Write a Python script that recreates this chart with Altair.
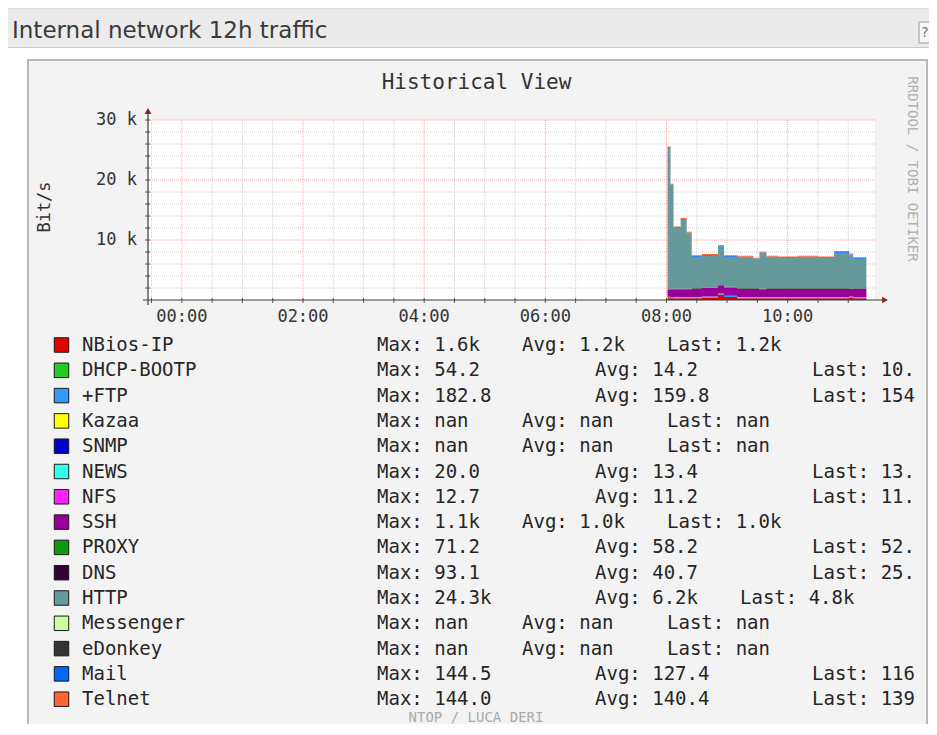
import altair as alt
import pandas as pd

# ---------------- data ----------------
series_names = ["NBios-IP", "DHCP-BOOTP", "+FTP", "Kazaa", "SNMP", "NEWS", "NFS", "SSH",
                "PROXY", "DNS", "HTTP", "Messenger", "eDonkey", "Mail", "Telnet"]
series_colors = ["#e60000", "#22cc22", "#3399ff", "#ffff00", "#0000cc", "#33ffee", "#ff22ff", "#990099",
                 "#119911", "#330033", "#669999", "#ccff99", "#333333", "#0066ff", "#ff6633"]
max_vals = ["1.6k", "54.2", "182.8", "nan", "nan", "20.0", "12.7", "1.1k",
            "71.2", "93.1", "24.3k", "nan", "nan", "144.5", "144.0"]
avg_vals = ["1.2k", "14.2", "159.8", "nan", "nan", "13.4", "11.2", "1.0k",
            "58.2", "40.7", "6.2k", "nan", "nan", "127.4", "140.4"]
last_vals = ["1.2k", "10.", "154", "nan", "nan", "13.", "11.", "1.0k",
             "52.", "25.", "4.8k", "nan", "nan", "116", "139"]

# sample times (HH:MM) and traffic per protocol in k bit/s (value holds until next sample)
times = ["08:01", "08:04", "08:07", "08:14", "08:20", "08:25", "08:35", "08:51", "08:57", "09:10",
         "09:26", "09:32", "09:39", "09:50", "10:10", "10:30", "10:46", "11:01", "11:05", "11:18"]
nbios = [0.3, 0.3, 0.3, 0.3, 0.3, 0.3, 0.4, 0.9, 0.5, 0.3, 0.3, 0.3, 0.3, 0.3, 0.3, 0.3, 0.3, 0.4, 0.3, 0.3]
dhcp = [0.05, 0.02, 0.01, 0.01, 0.01, 0.01, 0.01, 0.01, 0.01, 0.01, 0.01, 0.01, 0.01, 0.01, 0.01, 0.01, 0.01, 0.01, 0.01, 0.01]
ftp = [0.18, 0.17, 0.16, 0.16, 0.16, 0.16, 0.16, 0.17, 0.16, 0.16, 0.16, 0.16, 0.16, 0.16, 0.16, 0.16, 0.16, 0.16, 0.15, 0.15]
news = [0.02, 0.01, 0.01, 0.01, 0.01, 0.01, 0.01, 0.01, 0.01, 0.01, 0.01, 0.01, 0.01, 0.01, 0.01, 0.01, 0.01, 0.01, 0.01, 0.01]
nfs = [0.01, 0.01, 0.01, 0.01, 0.01, 0.01, 0.01, 0.01, 0.01, 0.01, 0.01, 0.01, 0.01, 0.01, 0.01, 0.01, 0.01, 0.01, 0.01, 0.01]
ssh = [1.2, 1.3, 1.3, 1.3, 1.3, 1.4, 1.4, 1.3, 1.4, 1.4, 1.4, 1.3, 1.4, 1.4, 1.4, 1.4, 1.4, 1.3, 1.4, 1.4]
proxy = [0.07, 0.06, 0.06, 0.06, 0.06, 0.06, 0.06, 0.06, 0.06, 0.06, 0.06, 0.06, 0.06, 0.06, 0.06, 0.06, 0.06, 0.05, 0.05, 0.05]
dns = [0.09, 0.05, 0.04, 0.04, 0.04, 0.04, 0.04, 0.05, 0.04, 0.04, 0.04, 0.04, 0.04, 0.04, 0.04, 0.04, 0.04, 0.03, 0.03, 0.03]
http = [23.4, 17.2, 10.1, 11.5, 9.2, 5.2, 5.3, 6.4, 5.0, 5.1, 4.8, 5.9, 5.1, 5.0, 5.1, 5.0, 5.9, 5.5, 4.9, 4.9]
mail = [0.14, 0.13, 0.13, 0.13, 0.13, 0.13, 0.13, 0.13, 0.13, 0.13, 0.13, 0.13, 0.13, 0.13, 0.13, 0.13, 0.13, 0.12, 0.12, 0.12]
telnet = [0.14, 0.14, 0.14, 0.14, 0.14, 0.14, 0.14, 0.14, 0.14, 0.14, 0.14, 0.14, 0.14, 0.14, 0.14, 0.14, 0.14, 0.14, 0.14, 0.14]

traffic = {"NBios-IP": nbios, "DHCP-BOOTP": dhcp, "+FTP": ftp, "NEWS": news, "NFS": nfs,
           "SSH": ssh, "PROXY": proxy, "DNS": dns, "HTTP": http, "Mail": mail, "Telnet": telnet}

x_tick_labels = ["00:00", "02:00", "04:00", "06:00", "08:00", "10:00"]
y_tick_values = [10, 20, 30]
y_tick_labels = ["10 k", "20 k", "30 k"]

chart_title = "Internal network 12h traffic"
graph_title = "Historical View"
y_label = "Bit/s"


def to_min(s):
    h, m = s.split(":")
    return int(h) * 60 + int(m)


# ---------------- layout ----------------
W, H = 727, 180
PAD = {"left": 140, "top": 112, "right": 54, "bottom": 424}
MONO = "DejaVu Sans Mono"

xs = alt.Scale(domain=[-33.5, 686.5], nice=False, zero=False)
ys = alt.Scale(domain=[0, 30], nice=False)

X = lambda f: alt.X(f, scale=xs, axis=None)
Y = lambda f: alt.Y(f, scale=ys, axis=None)

one = pd.DataFrame({"a": [0]})


def box(x1, x2, y1, y2, **kw):
    return alt.Chart(one).mark_rect(**kw).encode(
        x=alt.value(x1), x2=alt.value(x2), y=alt.value(y1), y2=alt.value(y2))


def label(text, x, y, **kw):
    return alt.Chart(pd.DataFrame({"t": [text]})).mark_text(**kw).encode(
        x=alt.value(x), y=alt.value(y), text="t:N")


# area data: stacked in legend order, RRD-style steps (value held until next sample)
mins = [to_min(t) for t in times]
rows = []
base = [0.0] * len(times)
for s in series_names:
    if s not in traffic:
        continue
    vals = traffic[s]
    for i, v in enumerate(vals):
        lo, hi = base[i], base[i] + v
        rows.append({"t": mins[i], "series": s, "lo": lo, "hi": hi})
        if i + 1 < len(vals):
            rows.append({"t": mins[i + 1] - 0.02, "series": s, "lo": lo, "hi": hi})
    base = [b + v for b, v in zip(base, vals)]
area_df = pd.DataFrame(rows)

areas = alt.Chart(area_df).mark_area(interpolate="linear", opacity=1).encode(
    x=X("t:Q"),
    y=alt.Y("hi:Q", scale=ys, axis=None, stack=None),
    y2="lo:Q",
    color=alt.Color("series:N", scale=alt.Scale(domain=series_names, range=series_colors), legend=None),
)

# grid
minor_x = [m for m in range(-30, 661, 30) if m % 120 != 0]
major_x = [to_min(t) for t in x_tick_labels]
minor_y = [v for v in range(2, 30, 2) if v % 10 != 0]
major_y = y_tick_values

vgrid_minor = alt.Chart(pd.DataFrame({"m": minor_x})).mark_rule(
    color="#cfcfcf", strokeDash=[1, 1], strokeWidth=1).encode(x=X("m:Q"), y=alt.value(0), y2=alt.value(H))
vgrid_major = alt.Chart(pd.DataFrame({"m": major_x})).mark_rule(
    color="#f0a8a8", strokeDash=[1, 1], strokeWidth=1).encode(x=X("m:Q"), y=alt.value(0), y2=alt.value(H))
hgrid_minor = alt.Chart(pd.DataFrame({"k": minor_y})).mark_rule(
    color="#cfcfcf", strokeDash=[1, 1], strokeWidth=1).encode(y=Y("k:Q"), x=alt.value(0), x2=alt.value(W))
hgrid_major = alt.Chart(pd.DataFrame({"k": major_y})).mark_rule(
    color="#f0a8a8", strokeDash=[1, 1], strokeWidth=1).encode(y=Y("k:Q"), x=alt.value(0), x2=alt.value(W))

xticks = alt.Chart(pd.DataFrame({"m": minor_x + major_x})).mark_rule(
    color="#555", strokeWidth=1).encode(x=X("m:Q"), y=alt.value(H - 2), y2=alt.value(H + 3))
yticks = alt.Chart(pd.DataFrame({"k": minor_y + major_y})).mark_rule(
    color="#555", strokeWidth=1).encode(y=Y("k:Q"), x=alt.value(-3), x2=alt.value(2))

x_labels = alt.Chart(pd.DataFrame({"m": major_x, "lab": x_tick_labels})).mark_text(
    font=MONO, fontSize=17, color="#333", align="center", baseline="middle").encode(
    x=X("m:Q"), y=alt.value(H + 17), text="lab:N")
y_labels = alt.Chart(pd.DataFrame({"k": y_tick_values, "lab": y_tick_labels})).mark_text(
    font=MONO, fontSize=17, color="#333", align="right", baseline="middle").encode(
    y=Y("k:Q"), x=alt.value(-11), text="lab:N")

yline = alt.Chart(one).mark_rule(color="#3a3a3a", strokeWidth=1.2).encode(
    x=alt.value(0), y=alt.value(-8), y2=alt.value(H + 5))
xline = alt.Chart(one).mark_rule(color="#3a3a3a", strokeWidth=1.2).encode(
    x=alt.value(-5), x2=alt.value(W + 9), y=alt.value(H))
arrow_up = alt.Chart(one).mark_point(shape="triangle-up", filled=True, color="#8a2020", size=45, opacity=1).encode(
    x=alt.value(0), y=alt.value(-9))
arrow_right = alt.Chart(one).mark_point(shape="triangle-right", filled=True, color="#8a2020", size=45, opacity=1).encode(
    x=alt.value(W + 10), y=alt.value(H))


# legend table
def is_short(v):
    return v == "nan" or v.endswith("k")


leg = []
for i, name in enumerate(series_names):
    avg_x = 374 if (is_short(max_vals[i]) and len(max_vals[i]) <= 4) else 447
    last_x = avg_x + (145 if is_short(avg_vals[i]) else 217)
    leg.append({"name": name, "color": series_colors[i], "ry": 225 + 25.3 * i,
                "max_t": "Max: " + max_vals[i], "avg_t": "Avg: " + avg_vals[i],
                "last_t": "Last: " + last_vals[i], "avg_x": avg_x, "last_x": last_x})
leg_df = pd.DataFrame(leg)

LY = alt.Y("ry:Q", scale=None, axis=None)
swatches = alt.Chart(leg_df).mark_square(size=210, opacity=1, stroke="#1a1a1a", strokeWidth=1).encode(
    x=alt.value(-86.5), y=LY, fill=alt.Fill("color:N", scale=None))
leg_text = dict(font=MONO, fontSize=19, color="#262626", align="left", baseline="middle")
names = alt.Chart(leg_df).mark_text(**leg_text).encode(x=alt.value(-66), y=LY, text="name:N")
maxes = alt.Chart(leg_df).mark_text(**leg_text).encode(x=alt.value(229), y=LY, text="max_t:N")
avgs = alt.Chart(leg_df).mark_text(**leg_text).encode(
    x=alt.X("avg_x:Q", scale=None, axis=None), y=LY, text="avg_t:N")
lasts = alt.Chart(leg_df).mark_text(**leg_text).encode(
    x=alt.X("last_x:Q", scale=None, axis=None), y=LY, text="last_t:N")

layers = [
    box(-120, 779, -60, 606, fill="#f3f3f3", stroke="#b8b8b8", strokeWidth=2),
    box(-140, 781, -112, -72, fill="#ebebeb"),
    alt.Chart(one).mark_rule(color="#c8c8c8").encode(x=alt.value(-140), x2=alt.value(781), y=alt.value(-72.5)),
    alt.Chart(one).mark_rule(color="#dddddd").encode(x=alt.value(-140), x2=alt.value(781), y=alt.value(-111.5)),
    label(chart_title, -136, -82, font="DejaVu Sans", fontSize=23, color="#3a3a3a", align="left",
          baseline="alphabetic"),
    box(771, 782, -98, -77, fill="#f6f6f6", stroke="#999999", strokeWidth=1),
    label("?", 777, -87, font="DejaVu Sans", fontSize=14, color="#777", align="center", baseline="middle"),
    box(0, W, 0, H, fill="white"),
    vgrid_minor, hgrid_minor, vgrid_major, hgrid_major,
    areas,
    xticks, yticks, yline, xline, arrow_up, arrow_right,
    x_labels, y_labels,
    label(graph_title, 328.5, -37, font=MONO, fontSize=21, color="#333", align="center", baseline="middle"),
    label(y_label, -103, 87, font=MONO, fontSize=17, color="#333", align="center", baseline="middle", angle=270),
    label("RRDTOOL / TOBI OETIKER", 764, 49, font=MONO, fontSize=14, color="#b0b0b0", align="center",
          baseline="middle", angle=90),
    label("NTOP / LUCA DERI", 328, 598, font=MONO, fontSize=14, color="#aaaaaa", align="center",
          baseline="middle"),
    swatches, names, maxes, avgs, lasts,
    box(780, 800, -60, 610, fill="white"),
    alt.Chart(one).mark_rule(color="#b8b8b8", strokeWidth=2).encode(
        x=alt.value(779), y=alt.value(-60), y2=alt.value(606)),
]

chart = alt.layer(*layers).properties(
    width=W, height=H, padding=PAD, autosize=alt.AutoSizeParams(type="none"), background="white"
).configure_view(strokeWidth=0)

chart.save("out.html", embed_options={"renderer": "svg", "actions": False})
